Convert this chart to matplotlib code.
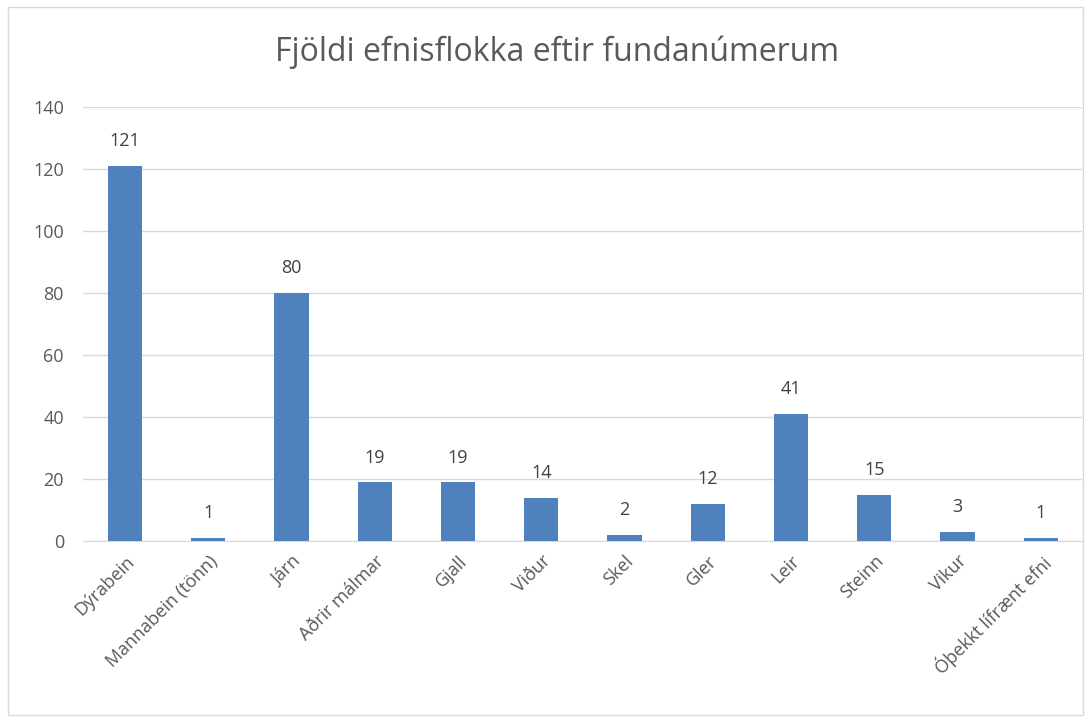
import matplotlib
matplotlib.use("Agg")
import matplotlib.pyplot as plt
from matplotlib.patches import Rectangle

categories = ["Dýrabein", "Mannabein (tönn)", "Járn", "Aðrir málmar", "Gjall", "Viður",
              "Skel", "Gler", "Leir", "Steinn", "Vikur", "Óþekkt lífrænt efni"]
values = [121, 1, 80, 19, 19, 14, 2, 12, 41, 15, 3, 1]
yticks = [0, 20, 40, 60, 80, 100, 120, 140]
title = "Fjöldi efnisflokka eftir fundanúmerum"

plt.rcParams['font.family'] = ['Open Sans', 'DejaVu Sans']
txt = '#595959'

fig = plt.figure(figsize=(10.9, 7.2), dpi=100)
fig.patches.append(Rectangle((8/1090, 5/720), 1075/1090, 708/720, transform=fig.transFigure,
                             fill=False, edgecolor='#D9D9D9', linewidth=1))
ax = fig.add_axes([0.0765, 0.2486, 0.9165, 0.6028])
x = range(len(categories))
ax.bar(x, values, width=0.41, color='#4F81BD', zorder=3)
for xi, v in zip(x, values):
    ax.text(xi, v + 5, str(v), ha='center', va='bottom', fontsize=13, color='#404040')
ax.set_xlim(-0.5, len(categories) - 0.5)
ax.set_ylim(0, 140)
ax.set_yticks(yticks)
ax.set_yticklabels([str(t) for t in yticks], fontsize=13, color=txt)
ax.set_xticks(list(x))
ax.set_xticklabels(categories, rotation=45, ha='right', rotation_mode='anchor', fontsize=13, color=txt)
ax.tick_params(axis='both', length=0)
ax.tick_params(axis='y', pad=14)
ax.tick_params(axis='x', pad=8)
ax.grid(axis='y', color='#D9D9D9', linewidth=1, zorder=0)
for s in ['top', 'right', 'left']:
    ax.spines[s].set_visible(False)
ax.spines['bottom'].set_color('#D9D9D9')
fig.text(0.511, 0.928, title, ha='center', va='center', fontsize=23, color=txt)
fig.savefig("out.png", dpi=100)
